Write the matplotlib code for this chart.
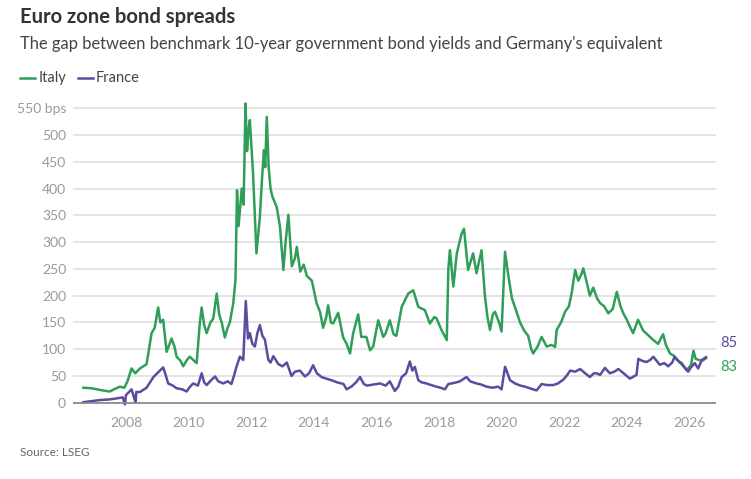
import matplotlib
matplotlib.use("Agg")
import matplotlib.pyplot as plt

# Spread over German 10-year Bund, basis points
italy_years = [2006.64, 2006.9, 2007.17, 2007.35, 2007.49, 2007.65, 2007.81, 2007.95, 2008.05, 2008.18,
               2008.30, 2008.45, 2008.66, 2008.82, 2008.92, 2009.03, 2009.10, 2009.19, 2009.30, 2009.46,
               2009.55, 2009.62, 2009.75, 2009.83, 2009.95, 2010.04, 2010.15, 2010.26, 2010.36, 2010.42,
               2010.50, 2010.58, 2010.70, 2010.79, 2010.90, 2010.98, 2011.06, 2011.16, 2011.25, 2011.32,
               2011.43, 2011.50, 2011.55, 2011.60, 2011.70, 2011.76, 2011.82, 2011.87, 2011.92, 2011.96,
               2012.06, 2012.17, 2012.28, 2012.35, 2012.41, 2012.45, 2012.50, 2012.56, 2012.62, 2012.68,
               2012.82, 2012.92, 2013.03, 2013.10, 2013.19, 2013.30, 2013.40, 2013.46, 2013.57, 2013.68,
               2013.78, 2013.94, 2014.09, 2014.20, 2014.30, 2014.40, 2014.46, 2014.55, 2014.62, 2014.78,
               2014.94, 2015.05, 2015.16, 2015.26, 2015.42, 2015.52, 2015.68, 2015.80, 2015.90, 2016.06,
               2016.22, 2016.30, 2016.43, 2016.55, 2016.64, 2016.81, 2017.02, 2017.18, 2017.34, 2017.55,
               2017.71, 2017.85, 2017.92, 2018.08, 2018.25, 2018.30, 2018.35, 2018.46, 2018.57, 2018.72,
               2018.80, 2018.93, 2019.09, 2019.20, 2019.36, 2019.47, 2019.55, 2019.63, 2019.72, 2019.79,
               2019.92, 2020.00, 2020.11, 2020.22, 2020.33, 2020.45, 2020.59, 2020.72, 2020.85, 2020.95,
               2021.01, 2021.15, 2021.28, 2021.44, 2021.60, 2021.71, 2021.76, 2021.90, 2022.03, 2022.15,
               2022.24, 2022.35, 2022.45, 2022.55, 2022.61, 2022.70, 2022.82, 2022.93, 2023.05, 2023.15,
               2023.28, 2023.41, 2023.55, 2023.68, 2023.80, 2023.89, 2024.00, 2024.10, 2024.20, 2024.36,
               2024.52, 2024.65, 2024.85, 2025.00, 2025.16, 2025.25, 2025.38, 2025.50, 2025.60, 2025.75,
               2025.91, 2026.05, 2026.13, 2026.20, 2026.30, 2026.40, 2026.53]
italy_bps = [28, 27, 24, 22, 21, 26, 30, 28, 40, 64,
             55, 64, 72, 130, 140, 178, 150, 155, 95, 120,
             105, 86, 78, 68, 80, 86, 80, 74, 148, 178,
             145, 130, 150, 157, 204, 165, 150, 122, 140, 150,
             186, 230, 397, 330, 400, 370, 559, 470, 510, 528,
             430, 279, 348, 420, 472, 440, 534, 440, 400, 385,
             365, 330, 248, 300, 351, 255, 270, 291, 245, 258,
             237, 228, 186, 170, 140, 160, 182, 150, 148, 168,
             122, 110, 92, 130, 165, 123, 123, 98, 105, 154,
             123, 130, 154, 128, 125, 179, 204, 210, 179, 173,
             148, 160, 158, 136, 117, 250, 285, 217, 279, 315,
             325, 248, 279, 242, 285, 198, 160, 136, 165, 170,
             150, 133, 282, 236, 195, 175, 150, 135, 125, 100,
             92, 105, 123, 105, 108, 104, 136, 150, 170, 180,
             205, 248, 228, 240, 251, 230, 200, 215, 195, 186,
             180, 167, 175, 207, 180, 167, 155, 142, 130, 155,
             135, 128, 117, 110, 128, 108, 92, 88, 80, 72,
             61, 70, 97, 82, 80, 78, 83]

france_years = [2006.64, 2006.9, 2007.17, 2007.45, 2007.70, 2007.90, 2007.97, 2008.00, 2008.18, 2008.31,
                2008.33, 2008.45, 2008.66, 2008.88, 2009.00, 2009.19, 2009.28, 2009.35, 2009.50, 2009.62,
                2009.80, 2009.94, 2010.05, 2010.15, 2010.30, 2010.42, 2010.50, 2010.58, 2010.72, 2010.85,
                2010.95, 2011.11, 2011.25, 2011.37, 2011.45, 2011.53, 2011.64, 2011.75, 2011.83, 2011.90,
                2011.96, 2012.04, 2012.12, 2012.20, 2012.28, 2012.36, 2012.44, 2012.55, 2012.62, 2012.71,
                2012.87, 2013.00, 2013.14, 2013.29, 2013.40, 2013.56, 2013.72, 2013.85, 2013.98, 2014.10,
                2014.25, 2014.40, 2014.57, 2014.75, 2014.95, 2015.05, 2015.20, 2015.35, 2015.48, 2015.60,
                2015.70, 2015.90, 2016.12, 2016.30, 2016.43, 2016.59, 2016.70, 2016.81, 2016.95, 2017.07,
                2017.15, 2017.23, 2017.34, 2017.45, 2017.60, 2017.75, 2017.92, 2018.05, 2018.19, 2018.30,
                2018.40, 2018.55, 2018.67, 2018.88, 2019.00, 2019.20, 2019.35, 2019.52, 2019.70, 2019.89,
                2020.00, 2020.11, 2020.16, 2020.27, 2020.43, 2020.60, 2020.75, 2020.90, 2021.12, 2021.28,
                2021.45, 2021.65, 2021.80, 2021.97, 2022.10, 2022.19, 2022.35, 2022.51, 2022.65, 2022.82,
                2022.95, 2023.03, 2023.15, 2023.30, 2023.46, 2023.60, 2023.73, 2023.90, 2024.10, 2024.25,
                2024.31, 2024.37, 2024.50, 2024.63, 2024.75, 2024.85, 2025.05, 2025.20, 2025.32, 2025.45,
                2025.53, 2025.65, 2025.75, 2025.85, 2025.96, 2026.05, 2026.17, 2026.28, 2026.40, 2026.53]
france_bps = [1, 3, 5, 6, 8, 10, -3, 14, 25, 0,
              20, 20, 28, 48, 55, 66, 50, 36, 32, 27,
              25, 21, 30, 36, 32, 55, 38, 33, 42, 49,
              40, 36, 40, 35, 50, 67, 86, 80, 190, 120,
              130, 110, 105, 130, 145, 125, 118, 80, 75, 87,
              72, 68, 75, 50, 58, 60, 49, 55, 70, 55,
              48, 45, 42, 38, 35, 25, 30, 38, 48, 35,
              32, 34, 36, 32, 40, 22, 30, 48, 55, 77,
              60, 67, 42, 38, 36, 33, 30, 28, 25, 35,
              36, 38, 40, 48, 40, 36, 34, 30, 28, 30,
              25, 67, 60, 42, 36, 32, 30, 27, 23, 35,
              33, 33, 36, 43, 52, 60, 58, 63, 56, 48,
              55, 55, 52, 65, 55, 58, 63, 55, 45, 50,
              52, 82, 78, 76, 80, 86, 71, 74, 68, 75,
              86, 78, 74, 66, 58, 66, 74, 64, 80, 85]

y_ticks = [0, 50, 100, 150, 200, 250, 300, 350, 400, 450, 500, 550]
x_ticks = [2008, 2010, 2012, 2014, 2016, 2018, 2020, 2022, 2024, 2026]

GREEN = "#2f9e58"
PURPLE = "#5e4aa0"
GREY = "#9a9a9a"

plt.rcParams['font.family'] = ['Lato', 'DejaVu Sans']

fig = plt.figure(figsize=(7.51, 4.79), dpi=100)
ax = fig.add_axes([0.0972, 0.1503, 0.8562, 0.637])

for y in y_ticks[1:]:
    ax.axhline(y, color="#dcdcdc", lw=1.1, zorder=0)
ax.axhline(0, color="#8a8a8a", lw=1.3, zorder=3)

ax.plot(italy_years, italy_bps, color=GREEN, lw=1.8, zorder=2)
ax.plot(france_years, france_bps, color=PURPLE, lw=1.8, zorder=2.5)

ax.set_xlim(2006.31, 2026.85)
ax.set_ylim(-8, 562)
ax.set_xticks(x_ticks)
ax.set_xticklabels([str(x) for x in x_ticks])
ax.set_yticks(y_ticks)
ax.set_yticklabels([str(y) if y != 550 else "550 bps" for y in y_ticks])
ax.tick_params(length=0, labelsize=10, labelcolor=GREY)
ax.tick_params(axis='y', pad=5)
ax.tick_params(axis='x', pad=7)
for s in ax.spines.values():
    s.set_visible(False)

# end-of-line value labels
ax.annotate(str(france_bps[-1]), (france_years[-1], france_bps[-1]), xytext=(10, 10),
            textcoords='offset points', color=PURPLE, fontsize=10.5, va='center')
ax.annotate(str(italy_bps[-1]), (italy_years[-1], italy_bps[-1]), xytext=(10, -6),
            textcoords='offset points', color=GREEN, fontsize=10.5, va='center')

fig.text(20 / 751, 1 - 17 / 479, "Euro zone bond spreads", fontsize=14.6, fontweight='bold',
         color="#333333", va='center')
fig.text(20 / 751, 1 - 44 / 479,
         "The gap between benchmark 10-year government bond yields and Germany's equivalent",
         fontsize=11.9, color="#444444", va='center')

# legend
fig.lines.append(plt.Line2D([20 / 751, 35 / 751], [1 - 78 / 479] * 2, color=GREEN, lw=1.8,
                            transform=fig.transFigure))
fig.text(39 / 751, 1 - 78 / 479, "Italy", fontsize=10.5, color="#444444", va='center')
fig.lines.append(plt.Line2D([78 / 751, 93 / 751], [1 - 78 / 479] * 2, color=PURPLE, lw=1.8,
                            transform=fig.transFigure))
fig.text(96 / 751, 1 - 78 / 479, "France", fontsize=10.5, color="#444444", va='center')

fig.text(20 / 751, 1 - 453 / 479, "Source: LSEG", fontsize=8.5, color="#666666", va='center')

fig.savefig("out.png", dpi=100)
